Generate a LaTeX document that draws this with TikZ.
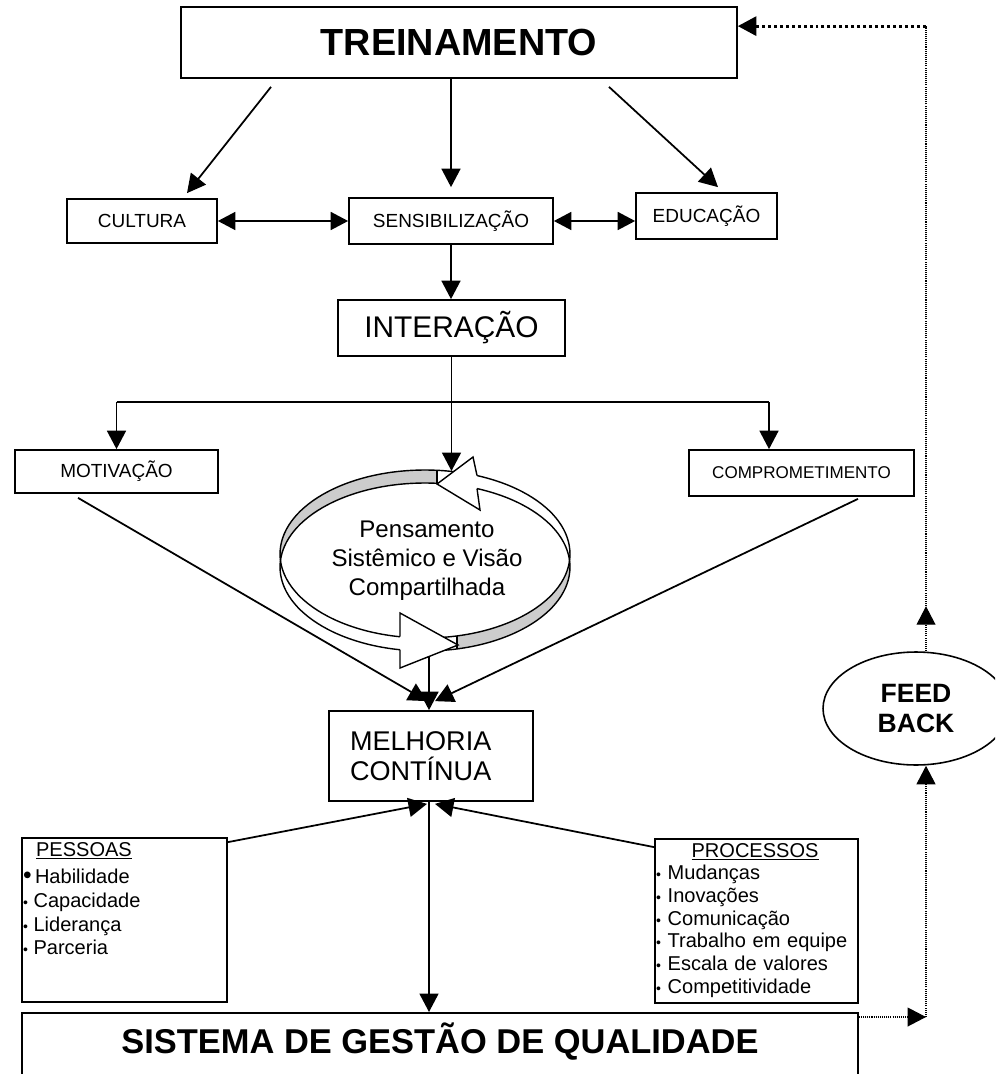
\documentclass[tikz,border=0pt]{standalone}
\usepackage{fontspec}
\setmainfont{Liberation Sans}
\usetikzlibrary{arrows.meta,shapes.geometric}

\newcommand{\fsz}[2]{\fontsize{#1pt}{#2pt}\selectfont}
\newcommand{\sbul}{{\footnotesize\textbullet}}

\tikzset{
    box/.style={draw, line width=1pt, inner sep=0pt, align=center},
    conn/.style={line width=1pt},
    tip/.style={-{Triangle[length=0.37cm,width=0.38cm]}},
    arr/.style={conn, tip},
    dbl/.style={conn, {Triangle[length=0.35cm,width=0.36cm]}-{Triangle[length=0.35cm,width=0.36cm]}},
    fbdot/.style={line width=0.6pt, dash pattern=on 0.6pt off 0.6pt},
    fbthick/.style={line width=1.7pt, dash pattern=on 1.7pt off 1.7pt},
    ringline/.style={line width=0.8pt}
}

\begin{document}
\begin{tikzpicture}[x=0.02cm, y=-0.02cm]
                    \useasboundingbox (0,0) rectangle (995,1074);
                    \clip (0,0) rectangle (995,1074);

                    \node[box, minimum width=11.12cm, minimum height=1.42cm, font=\fsz{21.5}{25}\bfseries] (trein) at (459,42.5) {TREINAMENTO};

                    \node[box, minimum width=3cm, minimum height=0.88cm, font=\fsz{10.8}{13}] (cult) at (142,221) {CULTURA};
                    \node[box, minimum width=4.08cm, minimum height=0.92cm, font=\fsz{10.8}{13}] (sens) at (451,221) {SENSIBILIZAÇÃO};
                    \node[box, minimum width=2.82cm, minimum height=0.92cm, font=\fsz{10.8}{13}] (edu) at (706.5,216) {EDUCAÇÃO};

                    \node[box, minimum width=4.54cm, minimum height=1.12cm, font=\fsz{17}{20}] (inter) at (451.5,328) {INTERAÇÃO};

                    \node[box, minimum width=4.06cm, minimum height=0.86cm, font=\fsz{10.8}{13}] (motiv) at (116.5,471.5) {MOTIVAÇÃO};
                    \node[box, minimum width=4.5cm, minimum height=0.92cm, font=\fsz{9.7}{12}] (compr) at (801.5,473) {COMPROMETIMENTO};

                    \node[box, minimum width=4.08cm, minimum height=1.8cm, text width=3.24cm, align=left, font=\fsz{15.4}{17}] (melh) at (431,756) {MELHORIA\\CONTÍNUA};

                    \node[box, minimum width=4.1cm, minimum height=3.28cm] (pes) at (124.5,920) {};
                    \node[anchor=north west, inner xsep=0.9pt, inner ysep=2.6pt, align=left, font=\fsz{11.4}{13.4}] (pestxt) at (pes.north west) {\hspace*{7.4pt}\underline{PESSOAS}\\[2.5pt]
                        {\fsz{14}{14}\textbullet}\,Habilidade\\
                        \sbul\ Capacidade\\
                        \sbul\ Liderança\\
                        \sbul\ Parceria};

                    \node[box, minimum width=4.06cm, minimum height=3.28cm] (proc) at (756.5,921) {};
                    \node[anchor=north west, inner xsep=0.9pt, inner ysep=2.6pt, text width=3.96cm, align=left, font=\fsz{11.4}{12.9}] (proctxt) at (proc.north west) {\makebox[\hsize]{\underline{PROCESSOS}}\\
                        \sbul\ Mudanças\\
                        \sbul\ Inovações\\
                        \sbul\ Comunicação\\
                        \sbul\ Trabalho em equipe\\
                        \sbul\ Escala de valores\\
                        \sbul\ Competitividade};

                    \node[box, anchor=north, minimum width=16.72cm, text height=0.82cm, text depth=1cm, font=\fsz{19.6}{23}\bfseries] (sis) at (440,1012) {SISTEMA DE GESTÃO DE QUALIDADE};

                    \node[draw, ellipse, line width=0.9pt, minimum width=3.72cm, minimum height=2.26cm, inner sep=0pt, align=center, font=\fsz{15.1}{17}\bfseries] (feed) at (916,708.5) {FEED\\BACK};

                    \fill[gray!40] plot[domain=85.25:180, samples=30] ({425+145*cos(\x)},{554-84*sin(\x)}) -- plot[domain=180:85.25, samples=30] ({425+145*cos(\x)},{567-84*sin(\x)}) -- cycle;
                    \fill[gray!40] plot[domain=282.75:360, samples=30] ({425+145*cos(\x)},{554-84*sin(\x)}) -- plot[domain=360:282.75, samples=30] ({425+145*cos(\x)},{567-84*sin(\x)}) -- cycle;
                    \draw[ringline] (425,554) ellipse [x radius=2.9cm, y radius=1.68cm];
                    \draw[ringline] (425,567) ellipse [x radius=2.9cm, y radius=1.68cm];
                    \draw[ringline] (437,470.3) -- (437,484);
                    \draw[ringline] (457,635.9) -- (457,649);
                    \filldraw[ringline, fill=white] (477,475.5) -- (473,457) -- (437,484) -- (480,510) -- (477,488.5);
                    \filldraw[ringline, fill=white] (400,636.7) -- (400,613) -- (458,645) -- (400,668) -- (400,649.7);
                    \node[align=center, font=\fsz{13.7}{16.5}] (ringtxt) at (427,561) {Pensamento\\Sistêmico e Visão\\Compartilhada};

                    \coordinate (bar) at (451.5,402);
                    \coordinate (ringtop) at (451.5,471);
                    \coordinate (ringbot) at (429,656);
                    \coordinate (cmptop) at ([xshift=-0.65cm]compr.north);

                    \draw[arr] ([xshift=-3.76cm,yshift=-0.16cm]trein.south) -- ([xshift=0.9cm,yshift=0.1cm]cult.north);
                    \draw[arr] (trein.south -| sens.north) -- ([yshift=0.2cm]sens.north);
                    \draw[arr] ([xshift=3cm,yshift=-0.16cm]trein.south) -- ([xshift=0.23cm,yshift=0.1cm]edu.north);

                    \draw[dbl] (cult.east) -- (sens.west);
                    \draw[dbl] (sens.east) -- (sens.east -| edu.west);
                    \draw[arr] (sens.south) -- (sens.south |- inter.north);

                    \draw[arr] (inter.south) -- (ringtop);
                    \draw[conn] (bar -| motiv.north) -- (bar -| cmptop);
                    \draw[arr] (bar -| motiv.north) -- (motiv.north);
                    \draw[arr] (bar -| cmptop) -- (cmptop);

                    \draw[arr] ([xshift=-0.77cm,yshift=-0.08cm]motiv.south) -- ([xshift=-0.08cm,yshift=0.18cm]melh.north);
                    \draw[arr] ([xshift=1.13cm,yshift=-0.04cm]compr.south) -- ([xshift=0.08cm,yshift=0.18cm]melh.north);
                    \draw[arr] (ringbot) -- (ringbot |- melh.north);

                    \draw[arr] ([yshift=-0.1cm]pes.north east) -- ([xshift=-0.08cm,yshift=-0.04cm]melh.south);
                    \draw[arr] ([yshift=-0.18cm]proc.north west) -- ([xshift=0.08cm,yshift=-0.04cm]melh.south);
                    \draw[arr] ([xshift=-0.04cm]melh.south) -- ([xshift=-0.04cm]melh.south |- sis.north);

                    \path ([yshift=-0.1cm]sis.north east) coordinate (sisout);
                    \path ([xshift=0.2cm]feed.south) coordinate (fbin);
                    \path ([xshift=0.2cm]feed.north) coordinate (fbup);
                    \path ([xshift=0.2cm,yshift=0.9cm]feed.north) coordinate (fbmid);
                    \path ([yshift=-0.4cm]trein.north east) coordinate (treinin);
                    \draw[fbdot, tip] (sisout) -- (sisout -| fbin);
                    \draw[fbdot, tip] (sisout -| fbin) -- (fbin);
                    \draw[fbdot, tip] (fbup) -- (fbmid);
                    \draw[fbdot] (fbmid) -- (fbmid |- treinin);
                    \draw[fbthick, tip] (fbmid |- treinin) -- (treinin);
                \end{tikzpicture}
\end{document}
